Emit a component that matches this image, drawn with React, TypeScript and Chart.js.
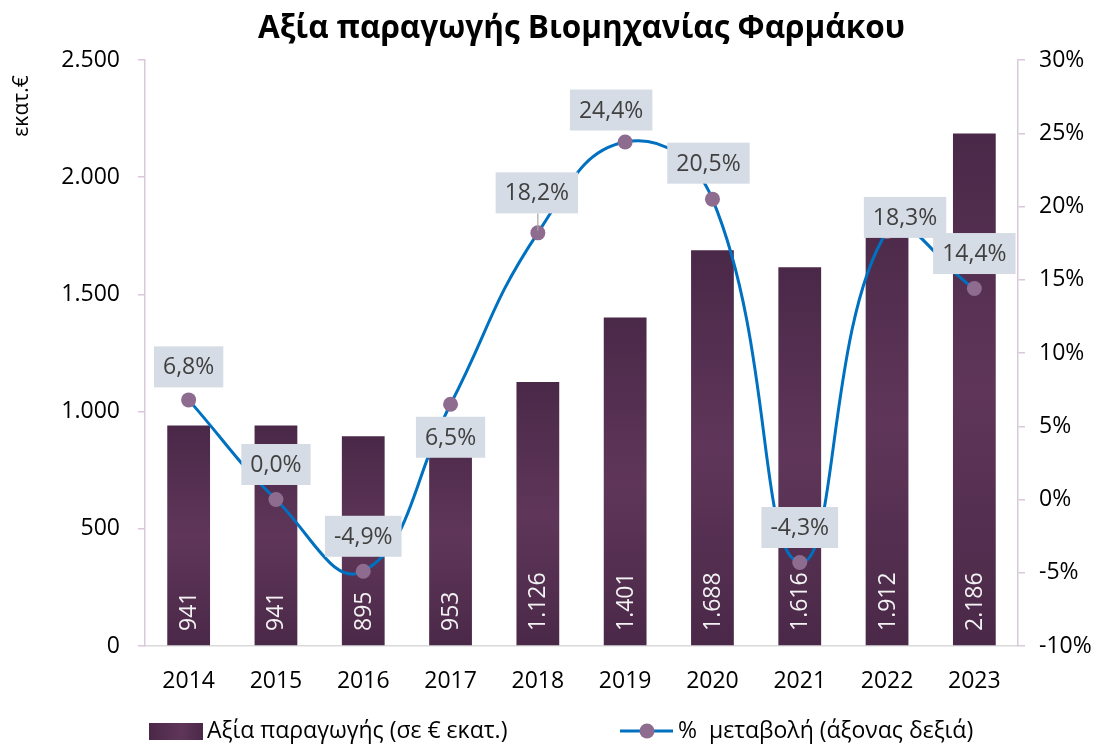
import React, { useEffect, useRef } from 'react';
import { Chart, registerables } from 'chart.js';

Chart.register(...registerables);

// ---------- data ----------
const years = ['2014', '2015', '2016', '2017', '2018', '2019', '2020', '2021', '2022', '2023'];
const productionValues = [941, 941, 895, 953, 1126, 1401, 1688, 1616, 1912, 2186];
const changePct = [6.8, 0.0, -4.9, 6.5, 18.2, 24.4, 20.5, -4.3, 18.3, 14.4];

const chartTitle = 'Αξία παραγωγής Βιομηχανίας Φαρμάκου';
const leftAxisTitle = 'εκατ.€';
const barSeriesName = 'Αξία παραγωγής (σε € εκατ.)';
const lineSeriesName = '%  μεταβολή (άξονας δεξιά)';

const leftMin = 0;
const leftMax = 2500;
const leftStep = 500;
const rightMin = -10;
const rightMax = 30;
const rightStep = 5;

// ---------- styling ----------
const FONT = '"Open Sans", "Noto Sans", sans-serif';
const FS = 23;
const AXIS_COLOR = '#d9c8d9';
const LINE_COLOR = '#0070c0';
const POINT_COLOR = '#8e6c90';
const LABEL_BG = '#d6dce5';
const LABEL_FG = '#404040';
const BAR_DARK = '#4a2848';
const BAR_LIGHT = '#5f3659';

// label placement relative to each point: [dx, dy, leader]
const labelPlacement: [number, number, boolean][] = [
  [0, -33, false],
  [0, -35, false],
  [0, -35, false],
  [0, 33, false],
  [-1, -40, true],
  [-14, -32, false],
  [-4, -36, false],
  [0, -35, false],
  [18, -14, false],
  [0, -35, false],
];

const fmtThousands = (n: number) =>
  Math.round(n).toString().replace(/\B(?=(\d{3})+(?!\d))/g, '.');
const fmtPct = (n: number) => n.toFixed(1).replace('.', ',') + '%';

const decorPlugin = {
  id: 'decor',
  afterDatasetsDraw(chart: any) {
    const ctx: CanvasRenderingContext2D = chart.ctx;
    const area = chart.chartArea;
    ctx.save();

    // bar value labels (rotated)
    const barMeta = chart.getDatasetMeta(0);
    ctx.font = `${FS}px ${FONT}`;
    ctx.fillStyle = '#f2f2f2';
    ctx.textAlign = 'left';
    ctx.textBaseline = 'middle';
    barMeta.data.forEach((bar: any, i: number) => {
      ctx.save();
      ctx.translate(bar.x + 1, area.bottom - 15);
      ctx.rotate(-Math.PI / 2);
      ctx.fillText(fmtThousands(productionValues[i]), 0, 0);
      ctx.restore();
    });

    // percentage labels
    const lineMeta = chart.getDatasetMeta(1);
    ctx.font = `${FS}px ${FONT}`;
    lineMeta.data.forEach((pt: any, i: number) => {
      const [dx, dy, leader] = labelPlacement[i];
      const text = fmtPct(changePct[i]);
      const w = ctx.measureText(text).width + 18;
      const h = 41;
      const cx = pt.x + dx;
      const cy = pt.y + dy;
      if (leader) {
        ctx.strokeStyle = '#a6a6a6';
        ctx.lineWidth = 1.2;
        ctx.beginPath();
        ctx.moveTo(pt.x, cy + h / 2);
        ctx.lineTo(pt.x, pt.y - 2);
        ctx.stroke();
      }
      ctx.fillStyle = LABEL_BG;
      ctx.fillRect(cx - w / 2, cy - h / 2, w, h);
      ctx.fillStyle = LABEL_FG;
      ctx.textAlign = 'center';
      ctx.textBaseline = 'middle';
      ctx.fillText(text, cx, cy + 1);
    });
    ctx.restore();
  },
  afterDraw(chart: any) {
    const ctx: CanvasRenderingContext2D = chart.ctx;
    const area = chart.chartArea;
    ctx.save();

    // title
    ctx.font = `bold 31.5px ${FONT}`;
    ctx.fillStyle = '#000';
    ctx.textAlign = 'center';
    ctx.textBaseline = 'middle';
    ctx.fillText(chartTitle, (area.left + area.right) / 2, 29);

    // left axis title
    ctx.save();
    ctx.font = `21px ${FONT}`;
    ctx.translate(22, 106);
    ctx.rotate(-Math.PI / 2);
    ctx.fillText(leftAxisTitle, 0, 0);
    ctx.restore();

    // legend
    const ly = 731;
    const sw = ctx.createLinearGradient(149, 0, 203, 0);
    sw.addColorStop(0, BAR_DARK);
    sw.addColorStop(0.6, BAR_LIGHT);
    sw.addColorStop(1, BAR_DARK);
    ctx.fillStyle = sw;
    ctx.fillRect(149, ly - 8, 54, 17);
    ctx.font = `${FS}px ${FONT}`;
    ctx.fillStyle = '#000';
    ctx.textAlign = 'left';
    ctx.textBaseline = 'middle';
    ctx.fillText(barSeriesName, 207, ly);

    ctx.strokeStyle = LINE_COLOR;
    ctx.lineWidth = 3;
    ctx.beginPath();
    ctx.moveTo(620, ly);
    ctx.lineTo(673, ly);
    ctx.stroke();
    ctx.fillStyle = POINT_COLOR;
    ctx.beginPath();
    ctx.arc(647, ly, 7.5, 0, Math.PI * 2);
    ctx.fill();
    ctx.fillStyle = '#000';
    ctx.fillText(lineSeriesName, 678, ly);

    ctx.restore();
  },
};

export default function App() {
  const canvasRef = useRef<HTMLCanvasElement | null>(null);

  useEffect(() => {
    document.body.style.margin = '0';
    const canvas = canvasRef.current;
    if (!canvas) return;

    const barGradient = (c: any) => {
      const chart = c.chart;
      if (!chart.chartArea || c.type !== 'data') return BAR_LIGHT;
      const ys = chart.scales.y;
      const top = ys.getPixelForValue(c.raw as number);
      const bottom = ys.getPixelForValue(0);
      const g = chart.ctx.createLinearGradient(0, top, 0, bottom);
      g.addColorStop(0, BAR_DARK);
      g.addColorStop(0.5, BAR_LIGHT);
      g.addColorStop(1, BAR_DARK);
      return g;
    };

    const chart = new Chart(canvas, {
      type: 'bar',
      data: {
        labels: years,
        datasets: [
          {
            type: 'bar',
            label: barSeriesName,
            data: productionValues,
            yAxisID: 'y',
            backgroundColor: barGradient as any,
            borderWidth: 0,
            categoryPercentage: 1,
            barPercentage: 0.49,
            order: 2,
          },
          {
            type: 'line',
            label: lineSeriesName,
            data: changePct,
            yAxisID: 'y2',
            borderColor: LINE_COLOR,
            borderWidth: 3,
            tension: 0.45,
            pointRadius: 7.5,
            pointHoverRadius: 7.5,
            pointBackgroundColor: POINT_COLOR,
            pointBorderWidth: 0,
            clip: false as any,
            order: 1,
          } as any,
        ],
      },
      options: {
        responsive: true,
        maintainAspectRatio: false,
        animation: false,
        events: [],
        layout: { padding: { top: 60, left: 0, right: 0, bottom: 0 } },
        plugins: {
          legend: { display: false },
          tooltip: { enabled: false },
          title: { display: false },
        },
        scales: {
          x: {
            grid: { display: true, drawOnChartArea: false, drawTicks: false },
            border: { display: true, color: '#d9d9d9', width: 1.5 },
            ticks: {
              color: '#000',
              font: { family: FONT, size: FS },
              padding: 22,
              maxRotation: 0,
            },
            afterFit: (s: any) => {
              s.height = 98;
            },
          },
          y: {
            position: 'left',
            min: leftMin,
            max: leftMax,
            grid: {
              display: true,
              drawOnChartArea: false,
              drawTicks: true,
              tickLength: 7,
              tickColor: AXIS_COLOR,
              lineWidth: 1.5,
            },
            border: { display: true, color: AXIS_COLOR, width: 1.5 },
            ticks: {
              stepSize: leftStep,
              color: '#000',
              font: { family: FONT, size: FS },
              padding: 18,
              callback: (v: any) => fmtThousands(Number(v)),
            },
            afterFit: (s: any) => {
              s.width = 145;
            },
          },
          y2: {
            position: 'right',
            min: rightMin,
            max: rightMax,
            grid: {
              display: true,
              drawOnChartArea: false,
              drawTicks: true,
              tickLength: 7,
              tickColor: AXIS_COLOR,
              lineWidth: 1.5,
            },
            border: { display: true, color: AXIS_COLOR, width: 1.5 },
            ticks: {
              stepSize: rightStep,
              color: '#000',
              font: { family: FONT, size: FS },
              padding: 14,
              callback: (v: any) => `${v}%`,
            },
            afterFit: (s: any) => {
              s.width = 81;
            },
          },
        },
      },
      plugins: [decorPlugin],
    });

    return () => chart.destroy();
  }, []);

  return (
    <div style={{ position: 'relative', width: '1099px', height: '744px' }}>
      <canvas ref={canvasRef} />
    </div>
  );
}
